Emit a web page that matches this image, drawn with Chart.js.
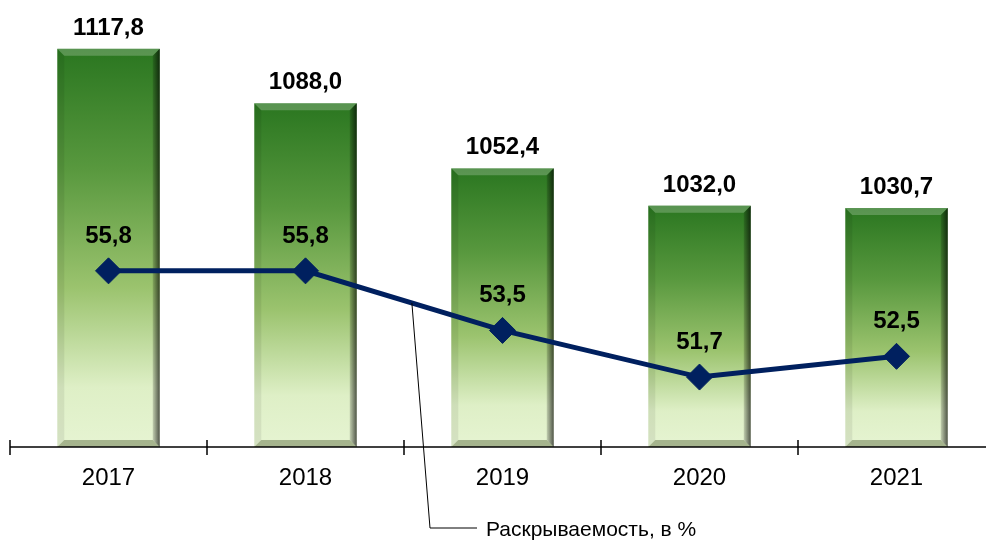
<!DOCTYPE html>
<html>
<head>
<meta charset="utf-8">
<script src="https://cdn.jsdelivr.net/npm/chart.js@4/dist/chart.umd.min.js"></script>
<style>
  html, body { margin: 0; padding: 0; background: #fff; overflow: hidden; }
</style>
</head>
<body>
<canvas id="chart" width="1000" height="545"></canvas>
<script>
const years = ["2017", "2018", "2019", "2020", "2021"];
const crimes = [1117.8, 1088.0, 1052.4, 1032.0, 1030.7];
const clearance = [55.8, 55.8, 53.5, 51.7, 52.5];
const lineLabel = "Раскрываемость, в %";

const FONT = "'Liberation Sans', Arial, sans-serif";
const NAVY = "#00205f";

function fmt(v) {
  return v.toFixed(1).replace(".", ",");
}

// bevelled gradient bars, drawn in place of the default ones
const bevelBars = {
  id: "bevelBars",
  beforeDatasetDraw(chart, args) {
    if (args.meta.type !== "bar") return;
    const ctx = chart.ctx;
    const b = 7;
    args.meta.data.forEach((el) => {
      const l = el.x - el.width / 2, r = el.x + el.width / 2;
      const t = el.y, bot = chart.chartArea.bottom;
      const g = ctx.createLinearGradient(0, t, 0, bot);
      g.addColorStop(0, "rgb(42,118,32)");
      g.addColorStop(0.3, "rgb(88,152,62)");
      g.addColorStop(0.6, "rgb(155,195,110)");
      g.addColorStop(0.85, "rgb(222,239,198)");
      g.addColorStop(1, "rgb(230,244,210)");
      ctx.save();
      ctx.fillStyle = g;
      ctx.fillRect(l, t, r - l, bot - t);

      const poly = (pts, fill) => {
        ctx.beginPath();
        ctx.moveTo(pts[0][0], pts[0][1]);
        for (let i = 1; i < pts.length; i++) ctx.lineTo(pts[i][0], pts[i][1]);
        ctx.closePath();
        ctx.fillStyle = fill;
        ctx.fill();
      };
      // left
      poly([[l, t], [l + b, t + b], [l + b, bot - b], [l, bot]], "rgba(0,0,0,0.07)");
      // top
      poly([[l, t], [r, t], [r - b, t + b], [l + b, t + b]], "rgba(255,255,255,0.22)");
      // right
      const gr = ctx.createLinearGradient(r - b, 0, r, 0);
      gr.addColorStop(0, "rgba(0,0,0,0.15)");
      gr.addColorStop(1, "rgba(0,0,0,0.65)");
      poly([[r, t], [r, bot], [r - b, bot - b], [r - b, t + b]], gr);
      // bottom
      poly([[l, bot], [r, bot], [r - b, bot - b], [l + b, bot - b]], "rgba(70,85,40,0.4)");
      ctx.restore();
    });
    return false;
  }
};

// axis, value labels, category labels and the series callout
const extras = {
  id: "extras",
  afterDatasetsDraw(chart) {
    const ctx = chart.ctx;
    const area = chart.chartArea;
    const xs = chart.scales.x;
    ctx.save();

    // axis line and tick marks crossing it
    ctx.strokeStyle = "#000";
    ctx.lineWidth = 1.5;
    ctx.beginPath();
    ctx.moveTo(area.left, area.bottom);
    ctx.lineTo(area.right, area.bottom);
    ctx.stroke();
    const n = years.length;
    for (let i = 0; i <= n; i++) {
      const x = area.left + (area.right - area.left) * i / n;
      ctx.beginPath();
      ctx.moveTo(x, area.bottom - 7);
      ctx.lineTo(x, area.bottom + 8);
      ctx.stroke();
    }

    // category labels
    ctx.fillStyle = "#000";
    ctx.textAlign = "center";
    ctx.textBaseline = "middle";
    ctx.font = "24px " + FONT;
    years.forEach((y, i) => {
      ctx.fillText(y, xs.getPixelForValue(i), area.bottom + 31);
    });

    // value labels
    ctx.textBaseline = "alphabetic";
    ctx.font = "bold 24px " + FONT;
    chart.data.datasets.forEach((ds, di) => {
      const meta = chart.getDatasetMeta(di);
      meta.data.forEach((el, i) => {
        if (meta.type === "bar") {
          ctx.fillText(fmt(ds.data[i]), el.x, el.y - 14);
        } else {
          ctx.fillText(fmt(ds.data[i]), el.x, el.y - 28);
        }
      });
    });

    // callout for the line series
    const lm = chart.getDatasetMeta(0).data;
    const p1 = lm[1], p2 = lm[2];
    const f = 0.54;
    const sx = p1.x + (p2.x - p1.x) * f;
    const sy = p1.y + (p2.y - p1.y) * f;
    ctx.strokeStyle = "#000";
    ctx.lineWidth = 1;
    ctx.beginPath();
    ctx.moveTo(sx, sy);
    ctx.lineTo(430, 528);
    ctx.lineTo(477, 528);
    ctx.stroke();
    ctx.textAlign = "left";
    ctx.textBaseline = "middle";
    ctx.font = "21px " + FONT;
    ctx.fillText(lineLabel, 486, 530);

    ctx.restore();
  }
};

new Chart(document.getElementById("chart"), {
  type: "bar",
  data: {
    labels: years,
    datasets: [
      {
        type: "line",
        label: lineLabel,
        data: clearance,
        yAxisID: "y2",
        borderColor: NAVY,
        borderWidth: 5,
        pointStyle: "rectRot",
        pointRadius: 13,
        pointBackgroundColor: NAVY,
        pointBorderColor: NAVY,
        pointBorderWidth: 1,
        tension: 0,
        order: 0
      },
      {
        type: "bar",
        label: "crimes",
        data: crimes,
        yAxisID: "y",
        backgroundColor: "rgb(120,175,85)",
        barPercentage: 0.52,
        categoryPercentage: 1,
        order: 1
      }
    ]
  },
  options: {
    responsive: false,
    animation: false,
    devicePixelRatio: 1,
    layout: { autoPadding: false, padding: { left: 10, right: 5, top: 10, bottom: 90 } },
    plugins: { legend: { display: false }, tooltip: { enabled: false } },
    scales: {
      x: {
        offset: true,
        grid: { display: false, offset: true },
        border: { display: false },
        ticks: { display: false }
      },
      y: { display: false, min: 900, max: 1139 },
      y2: { display: false, min: 49, max: 65.87 }
    }
  },
  plugins: [bevelBars, extras]
});
</script>
</body>
</html>
